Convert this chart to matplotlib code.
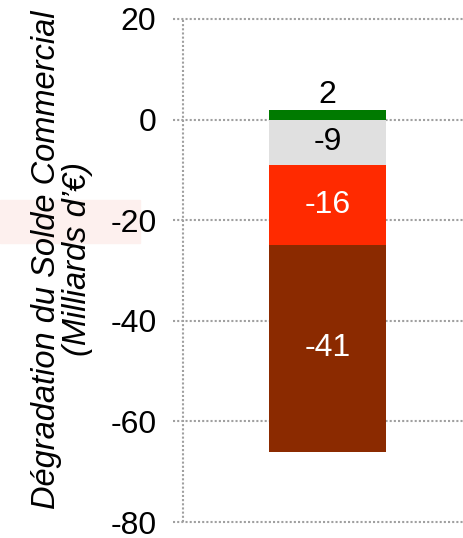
import matplotlib
matplotlib.use("Agg")
import matplotlib.pyplot as plt
from matplotlib.patches import Rectangle

plt.rcParams['font.family'] = ['Liberation Sans', 'DejaVu Sans']

# Contributions to the trade balance change (billions of euros)
segments = ["Excédent", "Divers", "Énergie", "Industrie"]
values = [2, -9, -16, -41]
colors = ["#007a00", "#e0e0e0", "#ff2a00", "#8b2a00"]
label_colors = ["black", "black", "white", "white"]
yticks = [20, 0, -20, -40, -60, -80]

fig = plt.figure(figsize=(4.64, 5.38), dpi=100)
ax = fig.add_axes([0.394, 0.0297, 0.606, 0.935])

# faint highlight band behind the axis label
fig.patches.append(Rectangle((0, 1 - 243 / 538), 140 / 464, 43 / 538,
                             transform=fig.transFigure, color="#fdf0ee",
                             zorder=-5))

x = 0.514
width = 0.416
pos_base = 0.0
neg_base = 0.0
for v, c, lc in zip(values, colors, label_colors):
    if v >= 0:
        bottom = pos_base
        pos_base += v
    else:
        bottom = neg_base
        neg_base += v
    ax.bar(x, v, width=width, bottom=bottom, color=c, zorder=3)
    if v >= 0:
        ax.annotate(f"{v}", (x, bottom + v), xytext=(0, 0),
                    textcoords="offset points", ha="center", va="bottom",
                    fontsize=23, color=lc, zorder=4)
    else:
        ax.text(x, bottom + v / 2, f"{v}", ha="center", va="center",
                fontsize=23, color=lc, zorder=4)

dots = dict(linestyle=(0, (1, 1)), color="#a0a0a0", linewidth=1.5)

ax.set_xlim(0, 1)
ax.set_ylim(-80, 20)
ax.set_yticks(yticks)
ax.set_yticklabels([str(t) for t in yticks], fontsize=23)
ax.set_xticks([])
# dotted gridlines, running slightly past the axis on the left
ax.hlines(yticks, -0.036, 1, transform=ax.get_yaxis_transform(),
          clip_on=False, zorder=0, **dots)
# dotted vertical axis line
ax.axvline(0, ymin=0, ymax=1, clip_on=False, zorder=0, **dots)
ax.tick_params(axis="y", length=0, pad=19)
for s in ["top", "right", "bottom", "left"]:
    ax.spines[s].set_visible(False)

ax.set_ylabel("Dégradation du Solde Commercial\n(Milliards d’€)",
              fontsize=23.5, style="italic", linespacing=1.0)
ax.yaxis.set_label_coords(-0.320, 0.522)

fig.savefig("out.png", dpi=100)
